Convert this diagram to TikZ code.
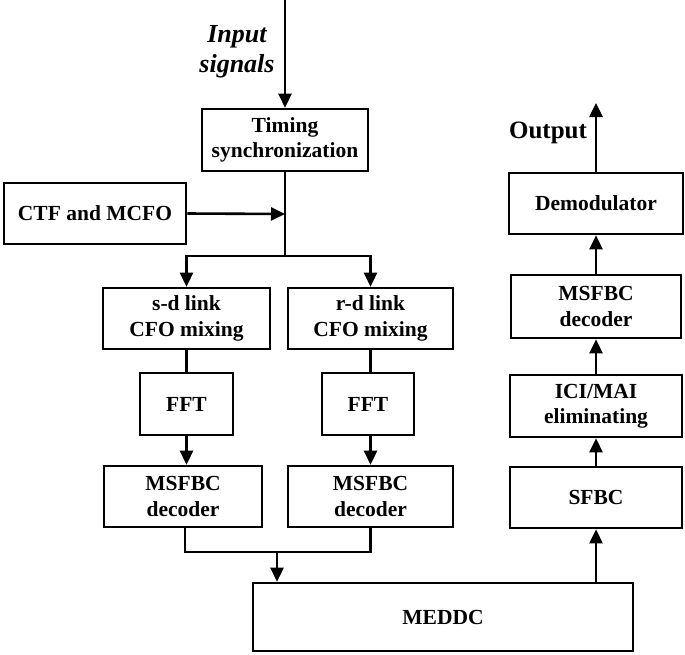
\documentclass[tikz,border=0pt]{standalone}
\usepackage{fontspec}
\setmainfont{Liberation Serif}
\usetikzlibrary{arrows.meta}
\tikzset{
  blk/.style={draw, line width=2.6pt, rectangle, inner sep=0pt, align=center,
    font=\bfseries\fontsize{21.5}{25.5}\selectfont},
  conn/.style={line width=2.6pt},
  arr/.style={line width=2.6pt, -{Triangle[length=14pt,width=13pt]}},
  lbl/.style={inner sep=0pt, align=center}
}
\begin{document}
\begin{tikzpicture}[x=1pt,y=-1pt]
\useasboundingbox (0,0) rectangle (685,654);
% boxes
\node[blk, minimum width=166, minimum height=62] (timing) at (285,140) {Timing\\synchronization};
\node[blk, minimum width=182, minimum height=61] (ctf) at (95,213.5) {CTF and MCFO};
\node[blk, minimum width=167, minimum height=61] (sd) at (186.5,318.5) {s-d link\\CFO mixing};
\node[blk, minimum width=165, minimum height=61] (rd) at (370.5,318.5) {r-d link\\CFO mixing};
\node[blk, minimum width=93, minimum height=62] (fftL) at (186.5,404) {FFT};
\node[blk, minimum width=92, minimum height=62] (fftR) at (368,404) {FFT};
\node[blk, minimum width=158, minimum height=61] (msfL) at (183,496.5) {MSFBC\\decoder};
\node[blk, minimum width=165, minimum height=61] (msfR) at (370.5,496.5) {MSFBC\\decoder};
\node[blk, minimum width=380, minimum height=68] (meddc) at (443,617) {MEDDC};
\node[blk, minimum width=172, minimum height=61] (sfbc) at (596,497.5) {SFBC};
\node[blk, minimum width=172, minimum height=62] (ici) at (596,406) {ICI/MAI\\eliminating};
\node[blk, minimum width=170, minimum height=63] (msf3) at (596,306.5) {MSFBC\\decoder};
\node[blk, minimum width=174, minimum height=61] (demod) at (596,203.5) {Demodulator};
% labels
\node[lbl, font=\bfseries\itshape\fontsize{26}{30}\selectfont] (inlbl) at (237,52) {Input\\signals};
\node[lbl, font=\bfseries\fontsize{25}{28}\selectfont] (outlbl) at (548,133) {Output};
% coordinates
\coordinate (in) at (285,0);
\coordinate (jc) at (285,214);
\coordinate (j) at (285,256);
\coordinate (mb) at (277,552);
\coordinate (out) at (596,103);
% connectors
\draw[arr] (in) -- (timing.north);
\draw[conn] (timing.south) -- (j);
\draw[arr] (ctf.east) -- (jc);
\draw[arr] (j) -| (sd.north);
\draw[arr] (j) -| (rd.north);
\draw[conn] (sd.south) -- (sd.south |- fftL.north);
\draw[conn] (rd.south) -- (rd.south |- fftR.north);
\draw[arr] (fftL.south) -- (fftL.south |- msfL.north);
\draw[arr] (fftR.south -| rd.south) -- (rd.south |- msfR.north);
\draw[conn] (msfL.south -| 185,0) |- (mb) -| (msfR.south);
\draw[arr] (mb) -- (mb |- meddc.north);
\draw[arr] (meddc.north -| sfbc.south) -- (sfbc.south);
\draw[arr] (sfbc.north) -- (ici.south);
\draw[arr] (ici.north) -- (msf3.south);
\draw[arr] (msf3.north) -- (demod.south);
\draw[arr] (demod.north) -- (out);
\end{tikzpicture}
\end{document}
